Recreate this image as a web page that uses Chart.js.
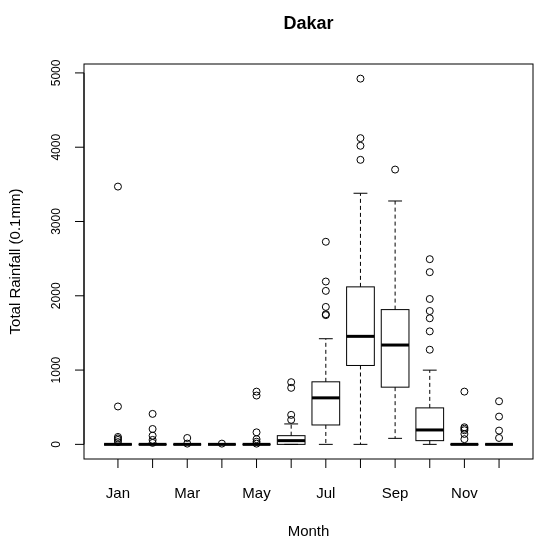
<!DOCTYPE html>
<html><head><meta charset="utf-8">
<script src="https://cdn.jsdelivr.net/npm/chart.js@4"></script>
<style>html,body{margin:0;background:#fff}#c{display:block}</style>
</head><body>
<div style="width:538px;height:542px"><canvas id="c"></canvas></div>
<script>
const months = ['Jan','Feb','Mar','Apr','May','Jun','Jul','Aug','Sep','Oct','Nov','Dec'];
const monthLabels = ['Jan','','Mar','','May','','Jul','','Sep','','Nov',''];
const whiskerLow = [0,0,0,0,0,0,0,0,81,0,0,0];
const q1 = [0,0,0,0,0,0,261,1062,770,50,0,0];
const median = [0,0,0,0,0,50,626,1454,1337,194,0,0];
const q3 = [0,0,0,0,0,117,842,2120,1814,491,0,0];
const whiskerHigh = [0,0,0,0,0,275,1422,3380,3276,999,0,0];
const outliers = [
  [3470,510,100,80,60,30],
  [410,207,117,60,20],
  [86,10],
  [10],
  [710,657,162,70,35,10],
  [837,761,397,330],
  [2727,2192,2066,1850,1751,1740],
  [4923,4122,4019,3830],
  [3699],
  [2493,2318,1957,1795,1697,1521,1274],
  [710,230,210,190,140,70],
  [580,374,185,86]
];
const yTicks = [0,1000,2000,3000,4000,5000];

const points = [];
outliers.forEach((arr, i) => arr.forEach(v => points.push({x: i + 1, y: v})));

const FONT = "'Liberation Sans', Arial, sans-serif";

const boxPlugin = {
  id: 'boxes',
  afterDatasetsDraw(chart) {
    const {ctx, scales: {x, y}, chartArea: a} = chart;
    ctx.save();
    ctx.strokeStyle = '#000';
    const hw = 0.4;
    months.forEach((m, i) => {
      const xc = x.getPixelForValue(i + 1);
      const xl = x.getPixelForValue(i + 1 - hw), xr = x.getPixelForValue(i + 1 + hw);
      const sl = x.getPixelForValue(i + 1 - hw / 2), sr = x.getPixelForValue(i + 1 + hw / 2);
      const pq1 = y.getPixelForValue(q1[i]), pq3 = y.getPixelForValue(q3[i]);
      const pmed = y.getPixelForValue(median[i]);
      const plo = y.getPixelForValue(whiskerLow[i]), phi = y.getPixelForValue(whiskerHigh[i]);
      ctx.lineWidth = 1;
      ctx.setLineDash([4, 3]);
      ctx.beginPath();
      ctx.moveTo(xc, pq3); ctx.lineTo(xc, phi);
      ctx.moveTo(xc, pq1); ctx.lineTo(xc, plo);
      ctx.stroke();
      ctx.setLineDash([]);
      ctx.beginPath();
      ctx.moveTo(sl, phi); ctx.lineTo(sr, phi);
      ctx.moveTo(sl, plo); ctx.lineTo(sr, plo);
      ctx.stroke();
      ctx.strokeRect(xl, pq3, xr - xl, pq1 - pq3);
      ctx.lineWidth = 3;
      ctx.beginPath();
      ctx.moveTo(xl, pmed); ctx.lineTo(xr, pmed);
      ctx.stroke();
    });
    ctx.lineWidth = 1;
    ctx.strokeRect(a.left, a.top, a.right - a.left, a.bottom - a.top);
    const ax = a.left;
    ctx.beginPath();
    ctx.moveTo(ax, y.getPixelForValue(0)); ctx.lineTo(ax, y.getPixelForValue(5000));
    yTicks.forEach(t => { const p = y.getPixelForValue(t); ctx.moveTo(ax, p); ctx.lineTo(ax - 9, p); });
    months.forEach((m, i) => { const p = x.getPixelForValue(i + 1); ctx.moveTo(p, a.bottom); ctx.lineTo(p, a.bottom + 9); });
    ctx.stroke();
    ctx.fillStyle = '#000';
    ctx.textAlign = 'center';
    ctx.textBaseline = 'middle';
    yTicks.forEach(t => {
      ctx.save();
      ctx.translate(ax - 27, y.getPixelForValue(t));
      ctx.rotate(-Math.PI / 2);
      ctx.font = '12px ' + FONT;
      ctx.fillText(String(t), 0, 0);
      ctx.restore();
    });
    ctx.font = '15px ' + FONT;
    monthLabels.forEach((l, i) => { if (l) ctx.fillText(l, x.getPixelForValue(i + 1), a.bottom + 35); });
    ctx.fillText('Month', (a.left + a.right) / 2, 532);
    ctx.save();
    ctx.translate(16, (a.top + a.bottom) / 2);
    ctx.rotate(-Math.PI / 2);
    ctx.fillText('Total Rainfall (0.1mm)', 0, 0);
    ctx.restore();
    ctx.font = 'bold 18px ' + FONT;
    ctx.fillText('Dakar', (a.left + a.right) / 2, 24);
    ctx.restore();
  }
};

new Chart(document.getElementById('c'), {
  type: 'scatter',
  data: { datasets: [{ data: points, pointStyle: 'circle', radius: 3.5, borderColor: '#000', borderWidth: 1, backgroundColor: 'rgba(0,0,0,0)' }] },
  options: {
    responsive: true, maintainAspectRatio: false, animation: false,
    layout: { padding: { left: 84, right: 2, top: 64, bottom: 83 } },
    plugins: { legend: { display: false }, tooltip: { enabled: false } },
    scales: {
      x: { type: 'linear', min: 0.02, max: 12.98, display: false },
      y: { type: 'linear', min: -197, max: 5120, display: false }
    }
  },
  plugins: [boxPlugin]
});
</script>
</body></html>
